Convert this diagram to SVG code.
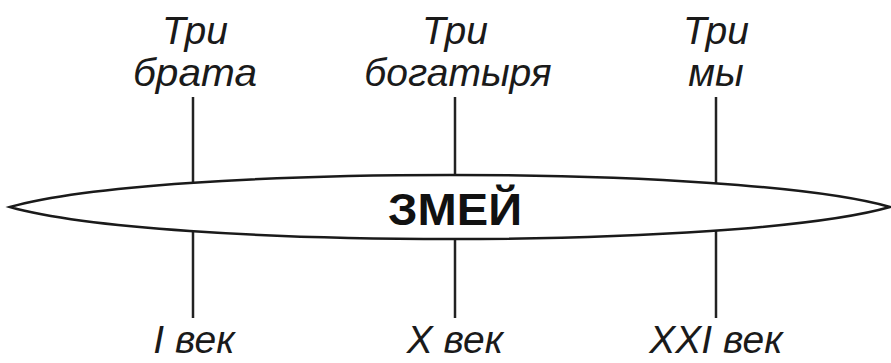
<svg xmlns="http://www.w3.org/2000/svg" width="891" height="363" viewBox="0 0 891 363">
<style>
.lbl{font-family:"Liberation Sans",Arial,sans-serif;font-style:italic;font-size:39px;fill:#1a1a1a;text-anchor:middle}
.ttl{font-family:"Liberation Sans",Arial,sans-serif;font-weight:bold;font-size:44px;fill:#111;text-anchor:middle}
.tick{stroke:#222;stroke-width:2.5;fill:none}
.lens{stroke:#1a1a1a;stroke-width:2.5;fill:#fff}
</style>
<rect width="891" height="363" fill="#fff"/>
<g id="connectors">
<line class="tick" x1="193" y1="97" x2="193" y2="318"/>
<line class="tick" x1="455" y1="97" x2="455" y2="318"/>
<line class="tick" x1="716" y1="97" x2="716" y2="318"/>
</g>
<g id="zmey">
<path class="lens" d="M10,207 C160,164.3 740,164.3 890,207 C740,249.7 160,249.7 10,207 Z"/>
<text class="ttl" x="455" y="225" textLength="134" lengthAdjust="spacingAndGlyphs">ЗМЕЙ</text>
</g>
<g id="top-brata">
<text class="lbl" x="195" y="44">Три</text>
<text class="lbl" x="195" y="86" textLength="124" lengthAdjust="spacingAndGlyphs">брата</text>
</g>
<g id="top-bogatyrya">
<text class="lbl" x="455" y="44">Три</text>
<text class="lbl" x="458" y="86">богатыря</text>
</g>
<g id="top-my">
<text class="lbl" x="716" y="44">Три</text>
<text class="lbl" x="716" y="86">мы</text>
</g>
<g id="bottom-1">
<text class="lbl" x="194" y="353">I век</text>
</g>
<g id="bottom-10">
<text class="lbl" x="455" y="353">X век</text>
</g>
<g id="bottom-21">
<text class="lbl" x="716" y="353">XXI век</text>
</g>
</svg>
